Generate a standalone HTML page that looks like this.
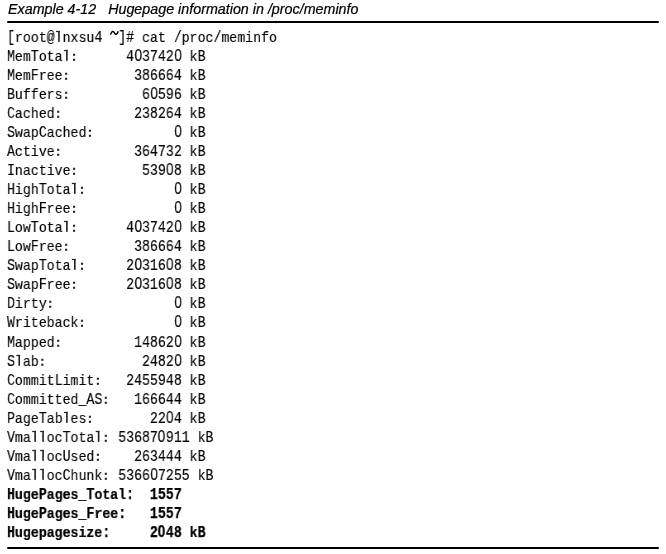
<!DOCTYPE html>
<html><head><meta charset="utf-8">
<style>
html,body{margin:0;padding:0;background:#fff;}
body{width:666px;height:554px;position:relative;overflow:hidden;}
.cap{position:absolute;left:8px;top:1px;font-family:"Liberation Sans",sans-serif;font-style:italic;font-size:14.3px;line-height:17px;color:#000;white-space:pre;-webkit-text-stroke:0.22px #000;transform:scaleY(1.05);transform-origin:0 13.45px;}
.rule{position:absolute;left:7px;width:652px;height:2px;background:#000;border-radius:1px;}
.l{position:absolute;left:7px;font-family:"Liberation Mono",monospace;font-size:16px;line-height:19px;height:19px;color:#000;white-space:pre;transform-origin:0 0;transform:scaleX(0.827);}
.l{-webkit-text-stroke:0.15px #000;will-change:transform;}
.b{font-weight:bold;-webkit-text-stroke:0.25px #000;}
.z{display:inline-block;line-height:0;width:9.6px;text-align:center;font-family:"Liberation Sans",sans-serif;font-size:15.6px;position:relative;top:0.4px;transform:scaleX(1.05);}
.tl{position:absolute;left:0;top:0;}
.lc{display:inline-block;line-height:0;transform:scaleY(0.925);transform-origin:0 4.26px;}
.cap,.rule,.tl{will-change:transform;}
</style></head><body>
<div class="cap">Example 4-12   Hugepage information in /proc/meminfo</div>
<div class="rule" style="top:21px"></div>
<div class="l" style="top:29px">[<span class="lc">root</span>@ <span class="lc">nxsu</span>4  ]# <span class="lc">cat</span> /<span class="lc">proc</span>/<span class="lc">meminfo</span></div>
<div class="l" style="top:48px">M<span class="lc">em</span>T<span class="lc">ota</span>        4<span class="z">0</span>3742<span class="z">0</span> <span class="lc">k</span>B</div>
<div class="l" style="top:67px">M<span class="lc">em</span>F<span class="lc">ree</span>         386664 <span class="lc">k</span>B</div>
<div class="l" style="top:86px">B<span class="lc">uffers</span>          6<span class="z">0</span>596 <span class="lc">k</span>B</div>
<div class="l" style="top:105px">C<span class="lc">ached</span>          238264 <span class="lc">k</span>B</div>
<div class="l" style="top:124px">S<span class="lc">wap</span>C<span class="lc">ached</span>           <span class="z">0</span> <span class="lc">k</span>B</div>
<div class="l" style="top:143px">A<span class="lc">ctive</span>          364732 <span class="lc">k</span>B</div>
<div class="l" style="top:162px">I<span class="lc">nactive</span>         539<span class="z">0</span>8 <span class="lc">k</span>B</div>
<div class="l" style="top:181px">H<span class="lc">igh</span>T<span class="lc">ota</span>             <span class="z">0</span> <span class="lc">k</span>B</div>
<div class="l" style="top:200px">H<span class="lc">igh</span>F<span class="lc">ree</span>             <span class="z">0</span> <span class="lc">k</span>B</div>
<div class="l" style="top:219px">L<span class="lc">ow</span>T<span class="lc">ota</span>        4<span class="z">0</span>3742<span class="z">0</span> <span class="lc">k</span>B</div>
<div class="l" style="top:238px">L<span class="lc">ow</span>F<span class="lc">ree</span>         386664 <span class="lc">k</span>B</div>
<div class="l" style="top:257px">S<span class="lc">wap</span>T<span class="lc">ota</span>       2<span class="z">0</span>316<span class="z">0</span>8 <span class="lc">k</span>B</div>
<div class="l" style="top:276px">S<span class="lc">wap</span>F<span class="lc">ree</span>       2<span class="z">0</span>316<span class="z">0</span>8 <span class="lc">k</span>B</div>
<div class="l" style="top:295px">D<span class="lc">irty</span>                <span class="z">0</span> <span class="lc">k</span>B</div>
<div class="l" style="top:314px">W<span class="lc">riteback</span>            <span class="z">0</span> <span class="lc">k</span>B</div>
<div class="l" style="top:334px">M<span class="lc">apped</span>          14862<span class="z">0</span> <span class="lc">k</span>B</div>
<div class="l" style="top:353px">S <span class="lc">ab</span>             2482<span class="z">0</span> <span class="lc">k</span>B</div>
<div class="l" style="top:372px">C<span class="lc">ommit</span>L<span class="lc">imit</span>    2455948 <span class="lc">k</span>B</div>
<div class="l" style="top:391px">C<span class="lc">ommitted</span>_AS    166644 <span class="lc">k</span>B</div>
<div class="l" style="top:410px">P<span class="lc">age</span>T<span class="lc">ab</span> <span class="lc">es</span>        22<span class="z">0</span>4 <span class="lc">k</span>B</div>
<div class="l" style="top:429px">V<span class="lc">ma</span>  <span class="lc">oc</span>T<span class="lc">ota</span>   53687<span class="z">0</span>911 <span class="lc">k</span>B</div>
<div class="l" style="top:448px">V<span class="lc">ma</span>  <span class="lc">oc</span>U<span class="lc">sed</span>     263444 <span class="lc">k</span>B</div>
<div class="l" style="top:467px">V<span class="lc">ma</span>  <span class="lc">oc</span>C<span class="lc">hunk</span>  5366<span class="z">0</span>7255 <span class="lc">k</span>B</div>
<div class="l b" style="top:486px">H<span class="lc">uge</span>P<span class="lc">ages</span>_T<span class="lc">otal</span>:  1557</div>
<div class="l b" style="top:505px">H<span class="lc">uge</span>P<span class="lc">ages</span>_F<span class="lc">ree</span>:   1557</div>
<div class="l b" style="top:524px">H<span class="lc">ugepagesize</span>:     2<span class="z">0</span>48 <span class="lc">k</span>B</div>
<svg class="tl" width="666" height="554" fill="#222222"><rect x="58.14" y="30.90" width="1.6" height="10.95"/><rect x="55.99" y="30.90" width="3.75" height="1.2"/><rect x="66.07" y="49.90" width="1.6" height="10.95"/><rect x="63.92" y="49.90" width="3.75" height="1.2"/><rect x="73.01" y="53.75" width="2.1" height="2.05"/><rect x="73.01" y="58.75" width="2.1" height="2.05"/><rect x="65.07" y="72.75" width="2.1" height="2.05"/><rect x="65.07" y="77.75" width="2.1" height="2.05"/><rect x="65.07" y="91.75" width="2.1" height="2.05"/><rect x="65.07" y="96.75" width="2.1" height="2.05"/><rect x="57.14" y="110.75" width="2.1" height="2.05"/><rect x="57.14" y="115.75" width="2.1" height="2.05"/><rect x="88.89" y="129.75" width="2.1" height="2.05"/><rect x="88.89" y="134.75" width="2.1" height="2.05"/><rect x="57.14" y="148.75" width="2.1" height="2.05"/><rect x="57.14" y="153.75" width="2.1" height="2.05"/><rect x="73.01" y="167.75" width="2.1" height="2.05"/><rect x="73.01" y="172.75" width="2.1" height="2.05"/><rect x="74.01" y="182.90" width="1.6" height="10.95"/><rect x="71.86" y="182.90" width="3.75" height="1.2"/><rect x="80.95" y="186.75" width="2.1" height="2.05"/><rect x="80.95" y="191.75" width="2.1" height="2.05"/><rect x="73.01" y="205.75" width="2.1" height="2.05"/><rect x="73.01" y="210.75" width="2.1" height="2.05"/><rect x="66.07" y="220.90" width="1.6" height="10.95"/><rect x="63.92" y="220.90" width="3.75" height="1.2"/><rect x="73.01" y="224.75" width="2.1" height="2.05"/><rect x="73.01" y="229.75" width="2.1" height="2.05"/><rect x="65.07" y="243.75" width="2.1" height="2.05"/><rect x="65.07" y="248.75" width="2.1" height="2.05"/><rect x="74.01" y="258.90" width="1.6" height="10.95"/><rect x="71.86" y="258.90" width="3.75" height="1.2"/><rect x="80.95" y="262.75" width="2.1" height="2.05"/><rect x="80.95" y="267.75" width="2.1" height="2.05"/><rect x="73.01" y="281.75" width="2.1" height="2.05"/><rect x="73.01" y="286.75" width="2.1" height="2.05"/><rect x="49.20" y="300.75" width="2.1" height="2.05"/><rect x="49.20" y="305.75" width="2.1" height="2.05"/><rect x="80.95" y="319.75" width="2.1" height="2.05"/><rect x="80.95" y="324.75" width="2.1" height="2.05"/><rect x="57.14" y="339.75" width="2.1" height="2.05"/><rect x="57.14" y="344.75" width="2.1" height="2.05"/><rect x="18.44" y="354.90" width="1.6" height="10.95"/><rect x="16.29" y="354.90" width="3.75" height="1.2"/><rect x="41.26" y="358.75" width="2.1" height="2.05"/><rect x="41.26" y="363.75" width="2.1" height="2.05"/><rect x="96.83" y="377.75" width="2.1" height="2.05"/><rect x="96.83" y="382.75" width="2.1" height="2.05"/><rect x="104.77" y="396.75" width="2.1" height="2.05"/><rect x="104.77" y="401.75" width="2.1" height="2.05"/><rect x="66.07" y="411.90" width="1.6" height="10.95"/><rect x="63.92" y="411.90" width="3.75" height="1.2"/><rect x="88.89" y="415.75" width="2.1" height="2.05"/><rect x="88.89" y="420.75" width="2.1" height="2.05"/><rect x="34.32" y="430.90" width="1.6" height="10.95"/><rect x="32.17" y="430.90" width="3.75" height="1.2"/><rect x="42.26" y="430.90" width="1.6" height="10.95"/><rect x="40.11" y="430.90" width="3.75" height="1.2"/><rect x="97.83" y="430.90" width="1.6" height="10.95"/><rect x="95.68" y="430.90" width="3.75" height="1.2"/><rect x="104.77" y="434.75" width="2.1" height="2.05"/><rect x="104.77" y="439.75" width="2.1" height="2.05"/><rect x="34.32" y="449.90" width="1.6" height="10.95"/><rect x="32.17" y="449.90" width="3.75" height="1.2"/><rect x="42.26" y="449.90" width="1.6" height="10.95"/><rect x="40.11" y="449.90" width="3.75" height="1.2"/><rect x="96.83" y="453.75" width="2.1" height="2.05"/><rect x="96.83" y="458.75" width="2.1" height="2.05"/><rect x="34.32" y="468.90" width="1.6" height="10.95"/><rect x="32.17" y="468.90" width="3.75" height="1.2"/><rect x="42.26" y="468.90" width="1.6" height="10.95"/><rect x="40.11" y="468.90" width="3.75" height="1.2"/><rect x="104.77" y="472.75" width="2.1" height="2.05"/><rect x="104.77" y="477.75" width="2.1" height="2.05"/><path d="M110.6,34.6 C111.6,30.6 113.4,30.8 114.4,32.8 C115.4,34.8 117.2,35 118.2,31.2" fill="none" stroke="#000" stroke-width="1.5"/></svg>
<div class="rule" style="top:547px"></div>
</body></html>
